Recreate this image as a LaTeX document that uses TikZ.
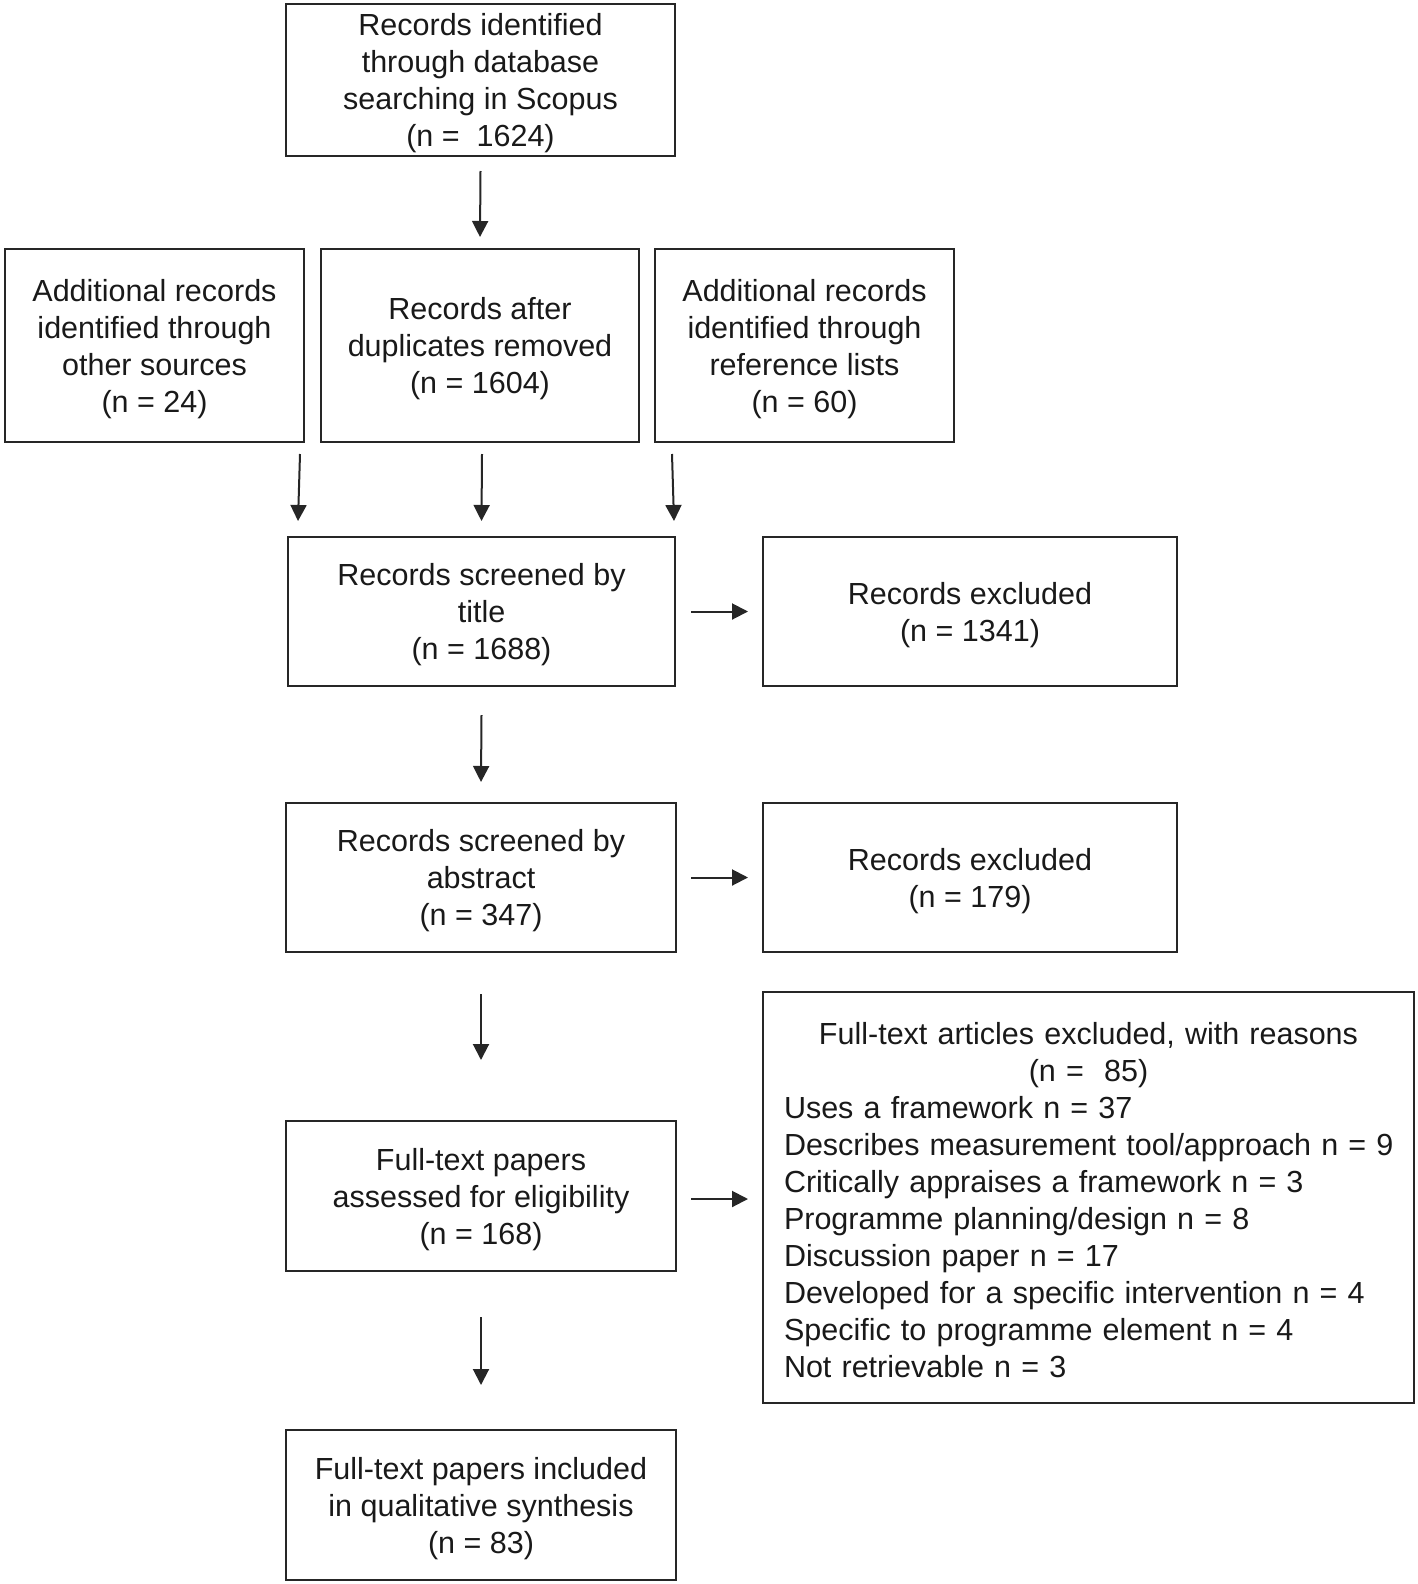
\documentclass[tikz,border=0pt]{standalone}
\usepackage{fontspec}
\setmainfont{Liberation Sans}
\usetikzlibrary{arrows.meta}
\begin{document}
\begin{tikzpicture}[x=1pt,y=1pt,
  frame/.style={draw=black!85, line width=2pt, inner sep=0pt,
    text=black!90, font=\fontsize{30.5}{37}\selectfont},
  box/.style={frame, align=center, text depth=-1.5pt},
  arr/.style={draw=black!85, line width=2pt, -{Triangle[width=16pt,length=16pt]}}]
\useasboundingbox (0,0) rectangle (1418,-1584);
\node[box, minimum width=389, minimum height=152] (top) at (480.5,-80)
  {Records identified\\through database\\searching in Scopus\\(n = \ 1624)};
\node[box, minimum width=299, minimum height=193] (left) at (154.5,-345.5)
  {Additional records\\identified through\\other sources\\(n = 24)};
\node[box, minimum width=318, minimum height=193] (dup) at (480,-345.5)
  {Records after\\duplicates removed\\(n = 1604)};
\node[box, minimum width=299, minimum height=193] (ref) at (804.5,-345.5)
  {Additional records\\identified through\\reference lists\\(n = 60)};
\node[box, minimum width=387, minimum height=149] (scr) at (481.5,-611.5)
  {Records screened by\\title\\(n = 1688)};
\node[box, minimum width=414, minimum height=149] (ex1) at (970,-611.5)
  {Records excluded\\(n = 1341)};
\node[box, minimum width=390, minimum height=149] (abs) at (481,-877.5)
  {Records screened by\\abstract\\(n = 347)};
\node[box, minimum width=414, minimum height=149] (ex2) at (970,-877.5)
  {Records excluded\\(n = 179)};
\node[box, minimum width=390, minimum height=150] (elig) at (481,-1196)
  {Full-text papers\\assessed for eligibility\\(n = 168)};
\node[frame, minimum width=651, minimum height=411, text width=609] (ex3) at (1088.5,-1197.5)
  {\centering\rule{0pt}{28pt}Full-text articles excluded, with reasons\\(n = \ 85)\par
   \raggedright
   \mbox{Uses a framework n = 37}\\
   \mbox{Describes measurement tool/approach n = 9}\\
   \mbox{Critically appraises a framework n = 3}\\
   \mbox{Programme planning/design n = 8}\\
   \mbox{Discussion paper n = 17}\\
   \mbox{Developed for a specific intervention n = 4}\\
   \mbox{Specific to programme element n = 4}\\
   \mbox{Not retrievable n = 3}\par};
\node[box, minimum width=390, minimum height=150] (final) at (481,-1505)
  {Full-text papers included\\in qualitative synthesis\\(n = 83)};
% connectors
\draw[arr] ([yshift=-14]top.south) -- ([yshift=11]dup.north);
\draw[arr] ([xshift=-5,yshift=-11]left.south east) -- ([xshift=11,yshift=15]scr.north west);
\draw[arr] ([xshift=2,yshift=-11]dup.south) -- ([yshift=15]scr.north);
\draw[arr] ([xshift=18,yshift=-11]ref.south west) -- ([xshift=-2,yshift=15]scr.north east);
\draw[arr] ([xshift=15]scr.east) -- ([xshift=-14]ex1.west);
\draw[arr] ([yshift=-28]scr.south) -- ([yshift=20]abs.north);
\draw[arr] ([xshift=14]abs.east) -- ([xshift=-14]ex2.west);
\draw[arr] ([yshift=-41]abs.south) -- ([yshift=60]elig.north);
\draw[arr] ([xshift=14,yshift=-3]elig.east) -- ([xshift=-14,yshift=-1.5]ex3.west);
\draw[arr] ([yshift=-45]elig.south) -- ([yshift=44]final.north);
\end{tikzpicture}
\end{document}
